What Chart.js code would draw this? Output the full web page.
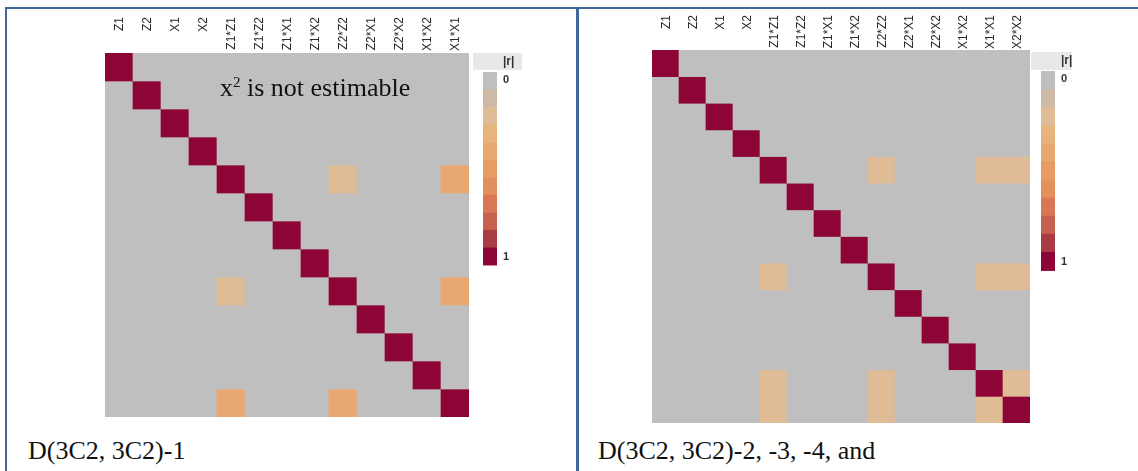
<!DOCTYPE html>
<html lang="en">
<head>
    <meta charset="UTF-8">
    <script src="https://cdn.jsdelivr.net/npm/chart.js@4.4.1/dist/chart.umd.min.js"></script>
    <title>Correlation maps</title>
    <style>
        body { margin: 0; width: 1138px; height: 471px; background: #fff; position: relative; overflow: hidden; }
        .rule { position: absolute; background: #41679a; }
        canvas { position: absolute; }
        .txt { position: absolute; font-family: "Liberation Serif", serif; font-size: 26px; line-height: 26px; color: #111; white-space: nowrap; }
        .txt sup { font-size: 15px; vertical-align: 9px; line-height: 0; }
    </style>
</head>
<body>
    <div class="rule" style="left:5px;top:7px;width:1133px;height:2px"></div>
    <div class="rule" style="left:5px;top:7px;width:2px;height:464px"></div>
    <div class="rule" style="left:576px;top:7px;width:3px;height:464px"></div>

    <canvas id="chartA" width="560" height="415" style="left:8px;top:10px"></canvas>
    <canvas id="chartB" width="555" height="420" style="left:580px;top:10px"></canvas>

    <div class="txt" style="left:220px;top:75px">x<sup>2</sup> is not estimable</div>
    <div class="txt" style="left:28px;top:438px">D(3C2, 3C2)-1</div>
    <div class="txt" style="left:598px;top:438px">D(3C2, 3C2)-2, -3, -4, and</div>

    <script>
        // term labels
        const labelsA = ['Z1', 'Z2', 'X1', 'X2', 'Z1*Z1', 'Z1*Z2', 'Z1*X1', 'Z1*X2', 'Z2*Z2', 'Z2*X1', 'Z2*X2', 'X1*X2', 'X1*X1'];
        const labelsB = ['Z1', 'Z2', 'X1', 'X2', 'Z1*Z1', 'Z1*Z2', 'Z1*X1', 'Z1*X2', 'Z2*Z2', 'Z2*X1', 'Z2*X2', 'X1*X2', 'X1*X1', 'X2*X2'];

        // |r| values, one row per term
        const rowsA = [
            [1, 0, 0, 0, 0, 0, 0, 0, 0, 0, 0, 0, 0],
            [0, 1, 0, 0, 0, 0, 0, 0, 0, 0, 0, 0, 0],
            [0, 0, 1, 0, 0, 0, 0, 0, 0, 0, 0, 0, 0],
            [0, 0, 0, 1, 0, 0, 0, 0, 0, 0, 0, 0, 0],
            [0, 0, 0, 0, 1, 0, 0, 0, 0.2, 0, 0, 0, 0.4],
            [0, 0, 0, 0, 0, 1, 0, 0, 0, 0, 0, 0, 0],
            [0, 0, 0, 0, 0, 0, 1, 0, 0, 0, 0, 0, 0],
            [0, 0, 0, 0, 0, 0, 0, 1, 0, 0, 0, 0, 0],
            [0, 0, 0, 0, 0.2, 0, 0, 0, 1, 0, 0, 0, 0.4],
            [0, 0, 0, 0, 0, 0, 0, 0, 0, 1, 0, 0, 0],
            [0, 0, 0, 0, 0, 0, 0, 0, 0, 0, 1, 0, 0],
            [0, 0, 0, 0, 0, 0, 0, 0, 0, 0, 0, 1, 0],
            [0, 0, 0, 0, 0.4, 0, 0, 0, 0.4, 0, 0, 0, 1]
        ];
        const rowsB = [
            [1, 0, 0, 0, 0, 0, 0, 0, 0, 0, 0, 0, 0, 0],
            [0, 1, 0, 0, 0, 0, 0, 0, 0, 0, 0, 0, 0, 0],
            [0, 0, 1, 0, 0, 0, 0, 0, 0, 0, 0, 0, 0, 0],
            [0, 0, 0, 1, 0, 0, 0, 0, 0, 0, 0, 0, 0, 0],
            [0, 0, 0, 0, 1, 0, 0, 0, 0.2, 0, 0, 0, 0.2, 0.2],
            [0, 0, 0, 0, 0, 1, 0, 0, 0, 0, 0, 0, 0, 0],
            [0, 0, 0, 0, 0, 0, 1, 0, 0, 0, 0, 0, 0, 0],
            [0, 0, 0, 0, 0, 0, 0, 1, 0, 0, 0, 0, 0, 0],
            [0, 0, 0, 0, 0.2, 0, 0, 0, 1, 0, 0, 0, 0.2, 0.2],
            [0, 0, 0, 0, 0, 0, 0, 0, 0, 1, 0, 0, 0, 0],
            [0, 0, 0, 0, 0, 0, 0, 0, 0, 0, 1, 0, 0, 0],
            [0, 0, 0, 0, 0, 0, 0, 0, 0, 0, 0, 1, 0, 0],
            [0, 0, 0, 0, 0.2, 0, 0, 0, 0.2, 0, 0, 0, 1, 0.2],
            [0, 0, 0, 0, 0.2, 0, 0, 0, 0.2, 0, 0, 0, 0.2, 1]
        ];

        // colour scale legend
        const scaleTitle = '|r|';
        const scaleTicks = ['0', '1'];
        const palette = ['#bfbfbf', '#cdbaa6', '#dfbb96', '#e9b47c', '#e9a870', '#e89c64', '#e4905c', '#da7855', '#c6604f', '#ab3c46', '#8c0536'];

        function colorFor(v) {
            return palette[Math.round(v * (palette.length - 1))];
        }

        const decor = {
            id: 'decor',
            beforeDatasetsDraw(chart) {
                const a = chart.chartArea;
                const ctx = chart.ctx;
                ctx.save();
                ctx.fillStyle = palette[0];
                ctx.fillRect(a.left, a.top, a.right - a.left, a.bottom - a.top);
                ctx.restore();
            },
            afterDraw(chart, args, opts) {
                const ctx = chart.ctx;
                const x = chart.scales.x;
                ctx.save();
                // column labels, rotated, top aligned
                ctx.font = '12px "Liberation Sans", sans-serif';
                ctx.fillStyle = '#2a2a2a';
                x.getLabels().forEach((lab, i) => {
                    ctx.save();
                    ctx.translate(x.getPixelForValue(i) + 1, opts.labelTop);
                    ctx.rotate(-Math.PI / 2);
                    ctx.textAlign = 'right';
                    ctx.textBaseline = 'middle';
                    ctx.fillText(lab, 0, 0);
                    ctx.restore();
                });
                // legend
                const L = opts.legend;
                ctx.fillStyle = '#e8e8e8';
                ctx.fillRect(L.boxX, L.boxY, L.boxW, L.boxH);
                const bandH = L.h / palette.length;
                palette.forEach((c, i) => {
                    ctx.fillStyle = c;
                    ctx.fillRect(L.x, L.y + i * bandH, L.w, Math.ceil(bandH));
                });
                ctx.fillStyle = '#333';
                ctx.textAlign = 'left';
                ctx.textBaseline = 'middle';
                ctx.font = 'bold 12px "Liberation Sans", sans-serif';
                ctx.fillText(scaleTitle, L.x + L.w + 6, L.boxY + 9);
                ctx.font = 'bold 11px "Liberation Sans", sans-serif';
                ctx.fillText(scaleTicks[0], L.x + L.w + 6, L.y + 8);
                ctx.fillText(scaleTicks[1], L.x + L.w + 6, L.y + L.h - 8);
                ctx.restore();
            }
        };

        function createChart(id, labels, rows, padding, decorOpts) {
            new Chart(document.getElementById(id), {
                type: 'bar',
                data: {
                    labels: labels,
                    datasets: rows.map((row, r) => ({
                        data: row.map(() => [r, r + 1]),
                        backgroundColor: row.map(colorFor),
                        borderWidth: 0,
                        barPercentage: 1,
                        categoryPercentage: 1,
                        grouped: false
                    }))
                },
                options: {
                    responsive: false,
                    animation: false,
                    layout: { padding: padding },
                    scales: {
                        x: { type: 'category', display: false, offset: true },
                        y: { type: 'linear', min: 0, max: rows.length, reverse: true, display: false }
                    },
                    plugins: {
                        legend: { display: false },
                        tooltip: { enabled: false },
                        decor: decorOpts
                    }
                },
                plugins: [decor]
            });
        }

        createChart('chartA', labelsA, rowsA,
            { left: 97, right: 99, top: 43, bottom: 8 },
            { labelTop: 7, legend: { x: 475, y: 62, w: 14, h: 193, boxX: 465, boxY: 43, boxW: 49, boxH: 17 } });

        createChart('chartB', labelsB, rowsB,
            { left: 72, right: 105, top: 40, bottom: 7 },
            { labelTop: 5, legend: { x: 461, y: 61, w: 14, h: 199, boxX: 451, boxY: 42, boxW: 41, boxH: 18 } });
    </script>
</body>
</html>
